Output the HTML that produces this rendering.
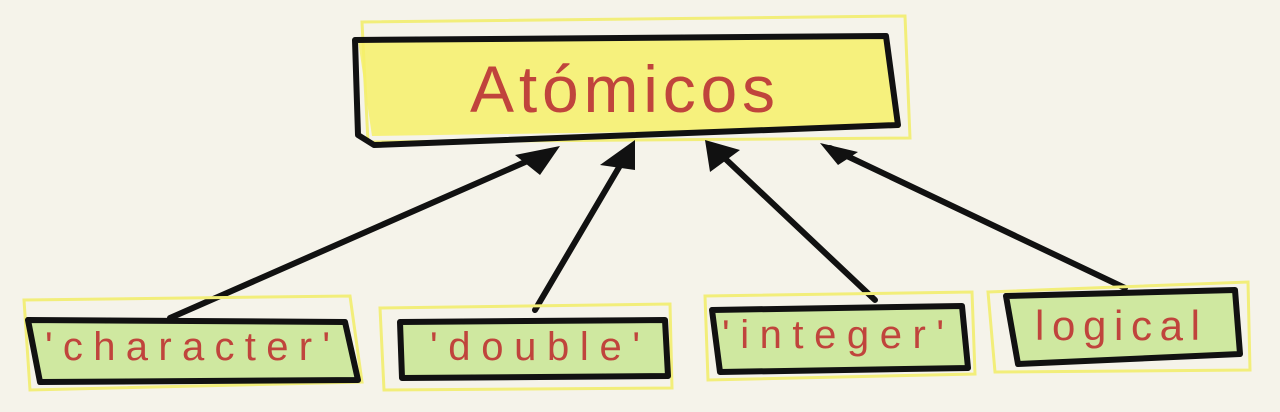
<!DOCTYPE html>
<html><head><meta charset="utf-8"><style>
html,body{margin:0;padding:0;background:#f5f3ea;}
svg{display:block}
text{font-family:"Liberation Sans",sans-serif;fill:#c0443c;}
</style></head><body>
<svg width="1280" height="412" viewBox="0 0 1280 412" xmlns="http://www.w3.org/2000/svg">
<rect width="1280" height="412" fill="#f5f3ea"/>
<polygon points="362,22 905,16 910,138 368,142" fill="none" stroke="#f2ee7a" stroke-width="3"/>
<polygon points="358,40 888,36 900,128 372,136" fill="#f6f06a" opacity="0.85"/>
<polygon points="355,40 886,36 898,125 374,145 358,135" fill="none" stroke="#111" stroke-width="6" stroke-linejoin="round"/>
<text x="470" y="112" font-size="66" textLength="305" lengthAdjust="spacing">Atómicos</text>
<g stroke="#111" stroke-width="6" stroke-linecap="round" fill="#111">
<line x1="170" y1="318" x2="548" y2="152"/>
<line x1="535" y1="310" x2="628" y2="152"/>
<line x1="875" y1="300" x2="716" y2="150"/>
<line x1="1125" y1="288" x2="830" y2="148"/>
</g>
<g fill="#111">
<polygon points="560,146 515,155 540,175"/>
<polygon points="635,140 600,165 635,170"/>
<polygon points="705,140 710,172 740,150"/>
<polygon points="820,143 838,165 858,152"/>
</g>
<g>
<polygon points="24,300 350,296 362,382 30,390" fill="none" stroke="#f2ee7a" stroke-width="3"/>
<polygon points="28,320 345,322 358,380 40,382" fill="#cfe8a0"/>
<polygon points="28,320 345,322 358,380 40,382" fill="none" stroke="#111" stroke-width="6" stroke-linejoin="round"/>
<text x="45" y="360" font-size="40" textLength="285" lengthAdjust="spacing">'character'</text>

<polygon points="380,308 670,304 672,388 384,390" fill="none" stroke="#f2ee7a" stroke-width="3"/>
<polygon points="400,322 665,320 668,376 402,378" fill="#cfe8a0"/>
<polygon points="400,322 665,320 668,376 402,378" fill="none" stroke="#111" stroke-width="6" stroke-linejoin="round"/>
<text x="430" y="360" font-size="40" textLength="210" lengthAdjust="spacing">'double'</text>

<polygon points="705,296 972,292 975,374 708,380" fill="none" stroke="#f2ee7a" stroke-width="3"/>
<polygon points="712,310 962,306 968,368 720,372" fill="#cfe8a0"/>
<polygon points="712,310 962,306 968,368 720,372" fill="none" stroke="#111" stroke-width="6" stroke-linejoin="round"/>
<text x="722" y="348" font-size="40" textLength="222" lengthAdjust="spacing">'integer'</text>

<polygon points="988,292 1248,282 1250,370 995,372" fill="none" stroke="#f2ee7a" stroke-width="3"/>
<polygon points="1006,296 1235,290 1240,354 1018,364" fill="#cfe8a0"/>
<polygon points="1006,296 1235,290 1240,354 1018,364" fill="none" stroke="#111" stroke-width="6" stroke-linejoin="round"/>
<text x="1035" y="340" font-size="42" textLength="165" lengthAdjust="spacing">logical</text>
</g>
</svg>
</body></html>
